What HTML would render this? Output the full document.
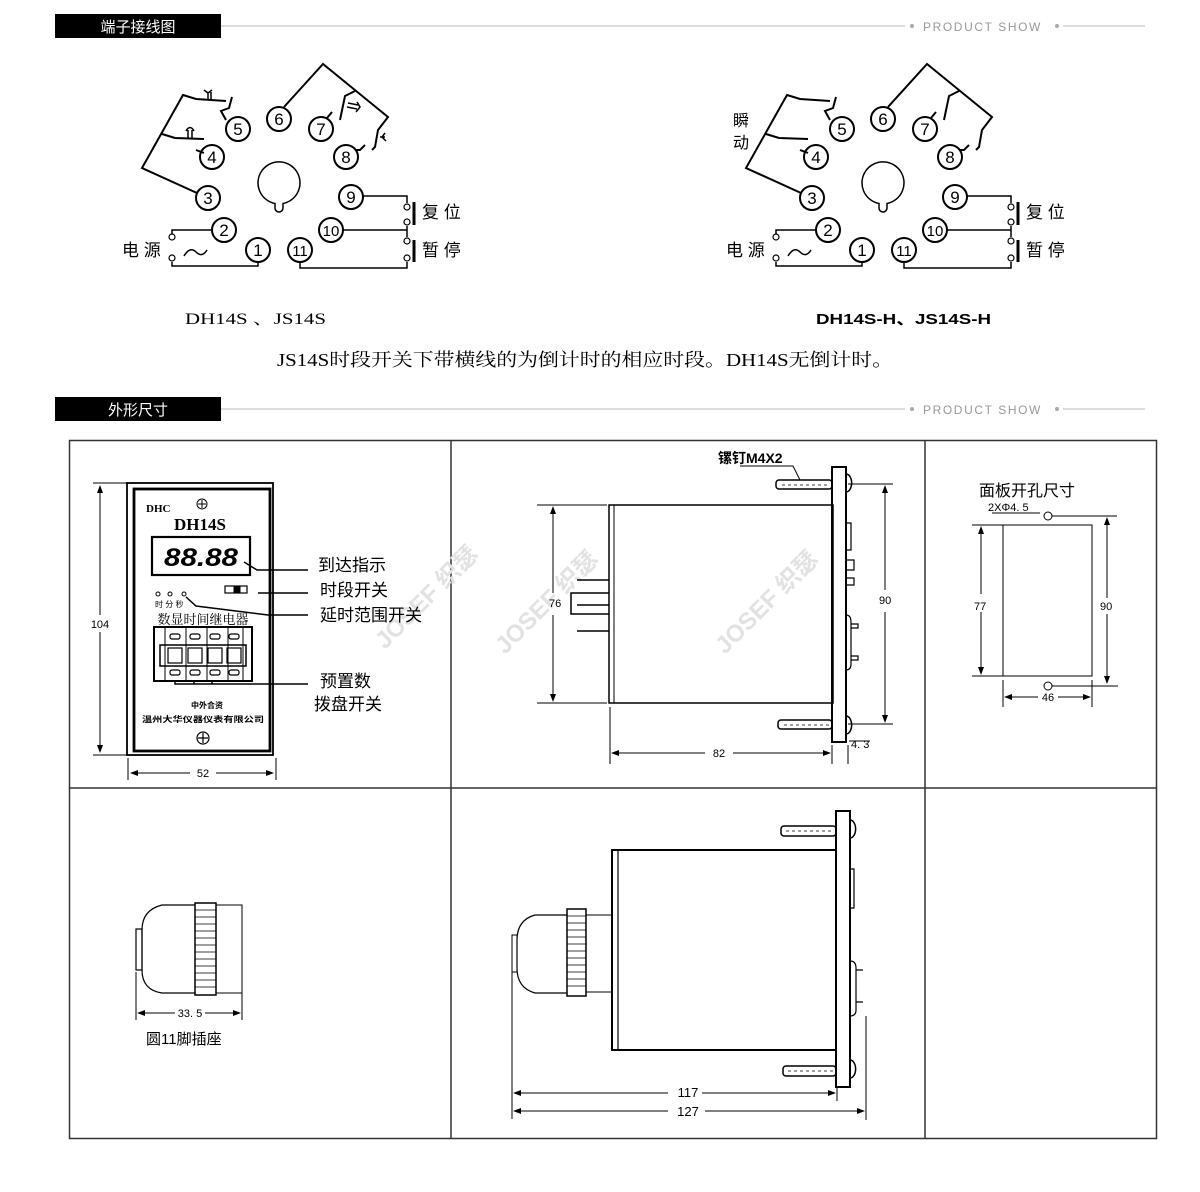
<!DOCTYPE html>
<html><head><meta charset="utf-8"><style>
html,body{margin:0;padding:0;background:#fff}
svg{display:block}
.s{font-family:"Liberation Sans","Noto Sans CJK SC",sans-serif}
.r{font-family:"Liberation Serif","Noto Serif CJK SC",serif}
</style></head><body>
<svg width="1200" height="1192" viewBox="0 0 1200 1192" xmlns="http://www.w3.org/2000/svg" class="s">
<defs>
<g id="base" fill="none" stroke="#000" stroke-width="2">
 <g fill="#fff">
  <circle cx="238" cy="129" r="12"/><circle cx="279" cy="119" r="12"/><circle cx="321" cy="129" r="12"/>
  <circle cx="346" cy="157" r="12"/><circle cx="212" cy="157" r="12"/><circle cx="208" cy="198" r="12"/>
  <circle cx="224" cy="230" r="12"/><circle cx="258" cy="250" r="12"/><circle cx="300" cy="250" r="12"/>
  <circle cx="331" cy="230" r="12"/><circle cx="351" cy="197" r="12"/>
 </g>
 <path d="M275 203.5 A21 21 0 1 1 283 203.5 L283 208 A4 4 0 0 1 275 208 Z" stroke-width="1.5"/>
 <path d="M197 193 L142 168 L183 95 L196 99 L226 101 M232 97 L229 108 L221 111 L226 120"/>
 <path d="M162 134 L175 138 L204 139 M196 150 L204 153"/>
 <path d="M284 107 L323 64 L388 117 L378 130 L375 147 L372 150 M355 91 L345 96 L340 120 M332 112 L327 118 M365 145 L360 150 L356 150"/>
 <path d="M212 230 L172 230 L172 234 M172 262 L172 266 L258 266 L258 262" stroke-width="1.5"/>
 <path d="M300 262 L300 268 L407 268 L407 262 M343 230 L407 230 L407 226 M407 237 L407 230 M363 196 L407 196 L407 203" stroke-width="1.5"/>
 <g stroke-width="1.2" fill="#fff"><circle cx="172" cy="237" r="3"/><circle cx="172" cy="258" r="3"/><circle cx="407" cy="207" r="3"/><circle cx="407" cy="222" r="3"/><circle cx="407" cy="241" r="3"/><circle cx="407" cy="258" r="3"/></g>
 <path d="M414 202 L414 225 M414 240 L414 262" stroke-width="3"/>
 <path d="M184 256 Q190 246 196 252 T207 250" stroke-width="1.5"/>
</g>
<g id="nums" font-size="17" text-anchor="middle" fill="#000">
 <text x="238" y="135">5</text><text x="279" y="125">6</text><text x="321" y="135">7</text><text x="346" y="163">8</text>
 <text x="212" y="163">4</text><text x="208" y="204">3</text><text x="224" y="236">2</text><text x="258" y="256">1</text>
 <text x="300" y="256" font-size="15">11</text><text x="331" y="236" font-size="15">10</text><text x="351" y="203">9</text>
 <text x="122" y="256" font-size="17" text-anchor="start">电 源</text>
 <text x="422" y="218" font-size="17" text-anchor="start">复 位</text>
 <text x="422" y="256" font-size="17" text-anchor="start">暂 停</text>
</g>
</defs>

<rect x="55" y="14" width="166" height="24" fill="#000"/>
<text x="138" y="32" font-size="15" fill="#fff" text-anchor="middle">端子接线图</text>
<line x1="221" y1="26" x2="905" y2="26" stroke="#bbb"/>
<circle cx="912" cy="26" r="2" fill="#aaa"/>
<text x="923" y="31" font-size="12" fill="#999" letter-spacing="1.6">PRODUCT SHOW</text>
<circle cx="1057" cy="26" r="2" fill="#aaa"/>
<line x1="1063" y1="26" x2="1145" y2="26" stroke="#bbb"/>

<rect x="55" y="397" width="166" height="24" fill="#000"/>
<text x="138" y="415" font-size="15" fill="#fff" text-anchor="middle">外形尺寸</text>
<line x1="221" y1="409" x2="905" y2="409" stroke="#bbb"/>
<circle cx="912" cy="409" r="2" fill="#aaa"/>
<text x="923" y="414" font-size="12" fill="#999" letter-spacing="1.6">PRODUCT SHOW</text>
<circle cx="1057" cy="409" r="2" fill="#aaa"/>
<line x1="1063" y1="409" x2="1145" y2="409" stroke="#bbb"/>

<use href="#base"/>
<use href="#nums"/>
<g fill="none" stroke="#000" stroke-width="1.5">
 <path d="M208 99 L208 92 M204 90 L208 93 L212 90 M211 99 L211 92"/>
 <path d="M188 138 L188 130 M192 138 L192 130 M186 131 Q190 124 194 131"/>
 <path d="M348 103 L358 105 M347 107 L357 109 M357 102 L360 107 L356 112"/>
 <path d="M380 137 L385 137 M385 133 L382 137 L386 141"/>
</g>
<g transform="translate(604,0)"><use href="#base"/><use href="#nums"/></g>
<text x="733" y="126" font-size="16">瞬</text>
<text x="733" y="148" font-size="16">动</text>

<text x="185" y="324" class="r" font-size="16" textLength="141" lengthAdjust="spacingAndGlyphs">DH14S 、JS14S</text>
<text x="816" y="324" font-size="15" font-weight="bold" textLength="175" lengthAdjust="spacingAndGlyphs">DH14S-H、JS14S-H</text>
<text x="277" y="366" class="r" font-size="18" textLength="616" lengthAdjust="spacingAndGlyphs">JS14S时段开关下带横线的为倒计时的相应时段。DH14S无倒计时。</text>

<g fill="none" stroke="#333" stroke-width="1.5">
 <rect x="69.5" y="440.5" width="1087" height="698"/>
 <line x1="451" y1="440" x2="451" y2="1138"/>
 <line x1="925" y1="440" x2="925" y2="1138"/>
 <line x1="69" y1="788" x2="1157" y2="788"/>
</g>

<g fill="#e2e2e2" font-weight="bold" font-size="24">
 <text transform="translate(385,650) rotate(-45)">JOSEF 织瑟</text>
 <text transform="translate(505,655) rotate(-45)">JOSEF 织瑟</text>
 <text transform="translate(725,655) rotate(-45)">JOSEF 织瑟</text>
</g>

<g fill="none" stroke="#000">
 <rect x="127" y="483" width="146" height="272" stroke-width="1.8"/>
 <rect x="134" y="489" width="136" height="262" stroke-width="2.8"/>
 <circle cx="202" cy="504" r="5" stroke-width="1"/><path d="M202 500 V508 M198 504 H206" stroke-width="1"/>
 <circle cx="203" cy="738" r="6" stroke-width="1.2"/><path d="M203 733 V743 M198 738 H208" stroke-width="1.2"/>
 <rect x="152" y="537" width="98" height="38" stroke-width="2.2"/>
 <rect x="225" y="586" width="22" height="7" stroke-width="1.2"/><rect x="234" y="587" width="6" height="5" fill="#000"/>
 <circle cx="158" cy="594" r="2"/><circle cx="170" cy="594" r="2"/><circle cx="184" cy="594" r="2"/>
 <rect x="154" y="627" width="98" height="54" stroke-width="2"/>
 <rect x="160" y="645" width="86" height="21" stroke-width="1.5"/>
 <path d="M165 627 V681 M186 627 V681 M207 627 V681 M228 627 V681 M243 627 V681" stroke-width="1"/>
 <g stroke-width="1.2">
  <rect x="168" y="648" width="14" height="15"/><rect x="188" y="648" width="14" height="15"/><rect x="208" y="648" width="14" height="15"/><rect x="227" y="648" width="14" height="15"/>
  <rect x="170" y="634" width="10" height="5" rx="2"/><rect x="190" y="634" width="10" height="5" rx="2"/><rect x="210" y="634" width="10" height="5" rx="2"/><rect x="229" y="634" width="10" height="5" rx="2"/>
  <rect x="170" y="670" width="10" height="5" rx="2"/><rect x="190" y="670" width="10" height="5" rx="2"/><rect x="210" y="670" width="10" height="5" rx="2"/><rect x="229" y="670" width="10" height="5" rx="2"/>
 </g>
 <path d="M244 562 L257 570 L308 570 M258 593 L308 593 M186 597 L196 606 L268 615 L308 615 M175 682 V684 L308 684 M194 682 V684 M212 682 V684" stroke-width="1.5"/>
 <path d="M93 483 H127 M93 755 H127 M100 487 V615 M100 632 V751 M128 758 V780 M276 758 V780 M132 773 H190 M216 773 H272" stroke-width="1"/>
 <path d="M100 485 l-3 8 h6 Z M100 753 l-3 -8 h6 Z M130 773 l8 -3 v6 Z M274 773 l-8 -3 v6 Z" fill="#000" stroke="none"/>
</g>
<text x="146" y="512" class="r" font-size="11" font-weight="bold">DHC</text>
<text x="174" y="530" class="r" font-size="17" font-weight="bold">DH14S</text>
<text x="164" y="566" font-size="25" font-weight="bold" font-style="italic" textLength="74" lengthAdjust="spacingAndGlyphs">88.88</text>
<text x="155" y="607" font-size="8">时 分 秒</text>
<text x="203" y="624" text-anchor="middle" class="r" font-size="13">数显时间继电器</text>
<g font-size="8" font-weight="bold" text-anchor="middle">
 <text x="207" y="708">中外合资</text>
 <text x="203" y="722" textLength="122" lengthAdjust="spacingAndGlyphs">温州大华仪器仪表有限公司</text>
</g>
<g font-size="17">
 <text x="318" y="571">到达指示</text>
 <text x="320" y="596">时段开关</text>
 <text x="320" y="621">延时范围开关</text>
 <text x="320" y="687">预置数</text>
 <text x="314" y="710">拨盘开关</text>
</g>
<text x="100" y="628" font-size="11" text-anchor="middle">104</text>
<text x="203" y="777" font-size="11" text-anchor="middle">52</text>

<g fill="none" stroke="#000">
 <rect x="609" y="505" width="224" height="198" stroke-width="1.5"/>
 <line x1="614" y1="505" x2="614" y2="703" stroke-width="1"/>
 <rect x="832" y="467" width="14" height="275" stroke-width="2"/>
 <path d="M846 474 a5 8 0 0 1 0 18 M846 716 a5 8 0 0 1 0 18" stroke-width="1.5"/>
 <rect x="776" y="480" width="56" height="9" rx="3" stroke-width="1.5"/>
 <rect x="778" y="720" width="54" height="9" rx="3" stroke-width="1.5"/>
 <path d="M782 485 H830 M784 725 H830" stroke-dasharray="3 3" stroke-width="0.8"/>
 <path d="M846 523 H851 V550 H846 M846 560 H854 V570 H846 M846 578 H854 V585 H846 M846 615 Q851 615 851 622 V664 Q851 670 846 670 M851 624 H858 V628 H851 M851 656 H858 V660 H851" stroke-width="1.2"/>
 <path d="M577 580 H609 M577 593 H609 M577 605 H609 M577 614 H609 M577 631 H609 M577 593 H571 V614 H577" stroke-width="1.5"/>
 <path d="M537 505 H607 M537 703 H607 M553 509 V593 M553 615 V699 M610 707 V764 M832 745 V764 M614 753 H705 M733 753 H828 M848 745 V764 M849 741 H870 M848 484 H893 M848 724 H893 M885 488 V590 M885 612 V720 M740 466 L793 466 L800 480" stroke-width="1"/>
 <path d="M553 506 l-3 8 h6 Z M553 702 l-3 -8 h6 Z M885 485 l-3 8 h6 Z M885 723 l-3 -8 h6 Z M611 753 l8 -3 v6 Z M831 753 l-8 -3 v6 Z" fill="#000" stroke="none"/>
</g>
<text x="718" y="463" font-size="14" font-weight="bold">镙钉M4X2</text>
<text x="549" y="607" font-size="11">76</text>
<text x="879" y="604" font-size="11">90</text>
<text x="719" y="757" font-size="11" text-anchor="middle">82</text>
<text x="851" y="748" font-size="11">4. 3</text>

<text x="979" y="496" font-size="16">面板开孔尺寸</text>
<text x="988" y="511" font-size="11">2XΦ4. 5</text>
<g fill="none" stroke="#000" stroke-width="1">
 <rect x="1003" y="525" width="89" height="151"/>
 <path d="M992 513 H1040 M1052 516 H1117 M1052 686 H1118 M972 525 H1003 M972 676 H1003 M981 529 V594 M981 612 V672 M1107 519 V598 M1107 614 V682 M1003 680 V707 M1092 680 V707 M1007 697 H1038 M1058 697 H1088"/>
 <circle cx="1048" cy="516" r="4"/><circle cx="1048" cy="686" r="4"/>
 <path d="M981 526 l-3 8 h6 Z M981 675 l-3 -8 h6 Z M1107 517 l-3 8 h6 Z M1107 684 l-3 -8 h6 Z M1004 697 l8 -3 v6 Z M1091 697 l-8 -3 v6 Z" fill="#000" stroke="none"/>
</g>
<text x="974" y="610" font-size="11">77</text>
<text x="1100" y="610" font-size="11">90</text>
<text x="1048" y="701" font-size="11" text-anchor="middle">46</text>

<g fill="none" stroke="#000" stroke-width="1.2">
 <path d="M195 905 H162 Q142 910 142 930 V970 Q142 990 162 993 H195"/>
 <rect x="136" y="929" width="6" height="41"/>
 <rect x="195" y="903" width="21" height="92" stroke-width="1.5"/>
 <path d="M195 910 H216 M195 917 H216 M195 924 H216 M195 931 H216 M195 938 H216 M195 945 H216 M195 952 H216 M195 959 H216 M195 966 H216 M195 973 H216 M195 980 H216 M195 987 H216" stroke-width="0.8"/>
 <path d="M216 905 H242 V993 H216 M136 972 V1020 M242 993 V1020 M140 1013 H175 M205 1013 H238" stroke-width="1"/>
 <path d="M137 1013 l8 -3 v6 Z M241 1013 l-8 -3 v6 Z" fill="#000" stroke="none"/>
</g>
<text x="190" y="1017" font-size="11" text-anchor="middle">33. 5</text>
<text x="146" y="1044" font-size="15">圆11脚插座</text>

<g fill="none" stroke="#000">
 <rect x="612" y="850" width="224" height="200" stroke-width="2"/>
 <line x1="618" y1="850" x2="618" y2="1050" stroke-width="1.2"/>
 <rect x="836" y="811" width="14" height="276" stroke-width="2"/>
 <path d="M850 820 a5 8 0 0 1 0 18 M850 1060 a5 8 0 0 1 0 18" stroke-width="1.5"/>
 <rect x="781" y="826" width="55" height="10" rx="3" stroke-width="1.5"/>
 <rect x="783" y="1066" width="53" height="10" rx="3" stroke-width="1.5"/>
 <path d="M786 831 H834 M788 1071 H834" stroke-dasharray="3 3" stroke-width="0.8"/>
 <path d="M850 869 H854 V908 H850 M850 961 Q856 961 856 968 V1010 Q856 1016 850 1016 M856 970 H863 M856 1002 H863" stroke-width="1.2"/>
 <path d="M567 915 H535 Q517 920 517 940 V968 Q517 988 535 993 H567" stroke-width="1.2"/>
 <rect x="512" y="935" width="5" height="37" stroke-width="1"/>
 <rect x="567" y="909" width="19" height="87" stroke-width="1.5"/>
 <path d="M567 916 H586 M567 923 H586 M567 930 H586 M567 937 H586 M567 944 H586 M567 951 H586 M567 958 H586 M567 965 H586 M567 972 H586 M567 979 H586 M567 986 H586" stroke-width="0.8"/>
 <path d="M586 915 H612 M586 992 H612 M512 972 V1119 M837 1087 V1101 M866 1016 V1120 M516 1093 H668 M702 1093 H834 M516 1111 H668 M705 1111 H862" stroke-width="1"/>
 <path d="M513 1093 l8 -3 v6 Z M836 1093 l-8 -3 v6 Z M513 1111 l8 -3 v6 Z M865 1111 l-8 -3 v6 Z" fill="#000" stroke="none"/>
</g>
<text x="688" y="1097" font-size="13" text-anchor="middle">117</text>
<text x="688" y="1116" font-size="13" text-anchor="middle">127</text>
</svg>
</body></html>
